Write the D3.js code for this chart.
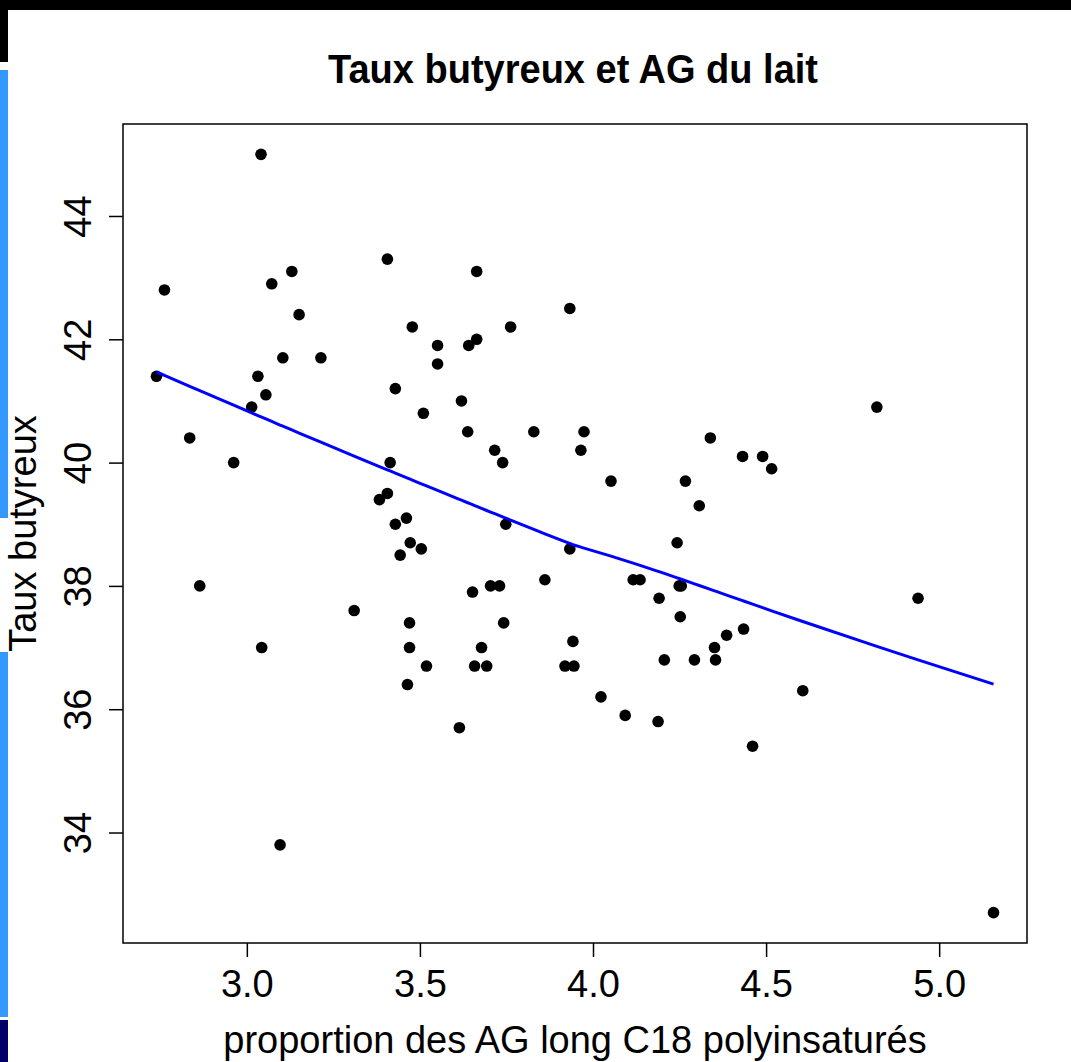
<!DOCTYPE html>
<html>
<head>
<meta charset="utf-8">
<script src="https://cdn.jsdelivr.net/npm/d3@7"></script>
<style>
  html, body { margin: 0; padding: 0; background: #fff; }
  svg { display: block; }
  text { font-family: "Liberation Sans", Arial, Helvetica, sans-serif; fill: #000; }
</style>
</head>
<body>
<svg id="chart" width="1071" height="1062"></svg>
<script>
// ---- data ----
const title = "Taux butyreux et AG du lait";
const xLabel = "proportion des AG long C18 polyinsaturés";
const yLabel = "Taux butyreux";

const agC18 = [
  2.739, 2.762, 2.835, 2.864, 2.962, 3.014, 3.032, 3.041, 3.055, 3.043,
  3.072, 3.104, 3.130, 3.151, 3.096, 3.214, 3.310, 3.383, 3.406, 3.406,
  3.414, 3.429, 3.429, 3.443, 3.461, 3.472, 3.470, 3.470, 3.464, 3.478,
  3.504, 3.510, 3.519, 3.551, 3.551, 3.614, 3.620, 3.638, 3.641, 3.664,
  3.664, 3.652, 3.658, 3.678, 3.693, 3.704, 3.716, 3.730, 3.739, 3.742,
  3.748, 3.762, 3.829, 3.861, 3.919, 3.933, 3.933, 3.942, 3.945, 3.965,
  3.974, 4.023, 4.052, 4.093, 4.116, 4.136, 4.188, 4.191, 4.206, 4.243,
  4.249, 4.255, 4.252, 4.267, 4.293, 4.307, 4.339, 4.351, 4.354, 4.386,
  4.432, 4.435, 4.461, 4.490, 4.516, 4.606, 4.820, 4.939, 5.157
];
const tauxButyreux = [
  41.4, 42.8, 40.4, 38.0, 40.0, 40.9, 41.4, 45.0, 41.1, 37.0,
  42.9, 41.7, 43.1, 42.4, 33.8, 41.7, 37.6, 39.4, 39.5, 43.3,
  40.0, 41.2, 39.0, 38.5, 39.1, 38.7, 37.4, 37.0, 36.4, 42.2,
  38.6, 40.8, 36.7, 41.9, 41.6, 35.7, 41.0, 40.5, 41.9, 42.0,
  43.1, 37.9, 36.7, 37.0, 36.7, 38.0, 40.2, 38.0, 40.0, 37.4,
  39.0, 42.2, 40.5, 38.1, 36.7, 42.5, 38.6, 37.1, 36.7, 40.2,
  40.5, 36.2, 39.7, 35.9, 38.1, 38.1, 35.8, 37.8, 36.8, 38.7,
  38.0, 38.0, 37.5, 39.7, 36.8, 39.3, 40.4, 37.0, 36.8, 37.2,
  40.1, 37.3, 35.4, 40.1, 39.9, 36.3, 40.9, 37.8, 32.7
];
const xTicks = [3.0, 3.5, 4.0, 4.5, 5.0];
const yTicks = [34, 36, 38, 40, 42, 44];
const smoothSpan = 1;

// ---- R-style lowess (clowess port) ----
function lowess(xIn, yIn, f = 2 / 3, iter = 3) {
  const idx = d3.range(xIn.length).sort((a, b) => xIn[a] - xIn[b] || a - b);
  const x = idx.map(i => xIn[i]), y = idx.map(i => yIn[i]);
  const n = x.length;
  const ns = Math.max(2, Math.min(n, Math.floor(f * n + 1e-7)));
  const delta = 0.01 * (x[n - 1] - x[0]);
  const ys = new Array(n).fill(0), res = new Array(n).fill(0), rw = new Array(n).fill(1);
  const w = new Array(n).fill(0);
  const range = x[n - 1] - x[0];
  function lowest(xs, nleft, nright, userw) {
    const h = Math.max(xs - x[nleft], x[nright] - xs);
    const h9 = 0.999 * h, h1 = 0.001 * h;
    let a = 0, j = nleft;
    while (j < n) {
      w[j] = 0;
      const r = Math.abs(x[j] - xs);
      if (r <= h9) {
        if (r <= h1) w[j] = 1; else { const q = r / h; w[j] = Math.pow(1 - q * q * q, 3); }
        if (userw) w[j] *= rw[j];
        a += w[j];
      } else if (x[j] > xs) break;
      j++;
    }
    const nrt = j - 1;
    if (a <= 0) return null;
    for (j = nleft; j <= nrt; j++) w[j] /= a;
    if (h > 0) {
      a = 0;
      for (j = nleft; j <= nrt; j++) a += w[j] * x[j];
      let b = xs - a, c = 0;
      for (j = nleft; j <= nrt; j++) c += w[j] * (x[j] - a) * (x[j] - a);
      if (Math.sqrt(c) > 0.001 * range) {
        b /= c;
        for (j = nleft; j <= nrt; j++) w[j] *= (b * (x[j] - a) + 1);
      }
    }
    let s = 0;
    for (j = nleft; j <= nrt; j++) s += w[j] * y[j];
    return s;
  }
  for (let it = 1; it <= iter + 1; it++) {
    let nleft = 0, nright = ns - 1, last = -1, i = 0;
    for (;;) {
      if (nright < n - 1) {
        const d1 = x[i] - x[nleft], d2 = x[nright + 1] - x[i];
        if (d1 > d2) { nleft++; nright++; continue; }
      }
      const v = lowest(x[i], nleft, nright, it > 1);
      ys[i] = v === null ? y[i] : v;
      if (last < i - 1) {
        const denom = x[i] - x[last];
        for (let j = last + 1; j < i; j++) {
          const alpha = (x[j] - x[last]) / denom;
          ys[j] = alpha * ys[i] + (1 - alpha) * ys[last];
        }
      }
      last = i;
      const cut = x[last] + delta;
      for (i = last + 1; i < n; i++) {
        if (x[i] > cut) break;
        if (x[i] === x[last]) { ys[i] = ys[last]; last = i; }
      }
      i = Math.max(last + 1, i - 1);
      if (last >= n - 1) break;
    }
    for (let k = 0; k < n; k++) res[k] = y[k] - ys[k];
    const sc = d3.sum(res, r => Math.abs(r)) / n;
    if (it > iter) break;
    const ar = res.map(Math.abs).sort((a, b) => a - b);
    const m1 = Math.floor(n / 2);
    let cmad;
    if (n % 2 === 0) { const m2 = n - m1 - 1; cmad = 3 * (ar[m1] + ar[m2]); }
    else cmad = 6 * ar[m1];
    if (cmad < 1e-7 * sc) break;
    const c9 = 0.999 * cmad, c1 = 0.001 * cmad;
    for (let k = 0; k < n; k++) {
      const r = Math.abs(res[k]);
      if (r <= c1) rw[k] = 1;
      else if (r <= c9) { const q = r / cmad; rw[k] = (1 - q * q) * (1 - q * q); }
      else rw[k] = 0;
    }
  }
  return x.map((xv, k) => [xv, ys[k]]);
}

// ---- layout ----
const svg = d3.select("#chart");
const plot = { left: 123, right: 1027, top: 124, bottom: 943 };

// slide fragments around the plot image
const deco = svg.append("g");
deco.append("rect").attr("x", 0).attr("y", 0).attr("width", 1071).attr("height", 10).attr("fill", "#000");
deco.append("rect").attr("x", 0).attr("y", 0).attr("width", 8).attr("height", 62).attr("fill", "#000");
deco.append("rect").attr("x", 0).attr("y", 70).attr("width", 8).attr("height", 448).attr("fill", "#3399ff");
deco.append("rect").attr("x", 0).attr("y", 652).attr("width", 8).attr("height", 365).attr("fill", "#3399ff");
deco.append("rect").attr("x", 0).attr("y", 1020).attr("width", 8).attr("height", 42).attr("fill", "#000066");

function padded(ext) {
  const d = (ext[1] - ext[0]) * 0.04;
  return [ext[0] - d, ext[1] + d];
}
const x = d3.scaleLinear().domain(padded(d3.extent(agC18))).range([plot.left, plot.right]);
const y = d3.scaleLinear().domain(padded(d3.extent(tauxButyreux))).range([plot.bottom, plot.top]);

// frame
svg.append("rect")
  .attr("x", plot.left).attr("y", plot.top)
  .attr("width", plot.right - plot.left).attr("height", plot.bottom - plot.top)
  .attr("fill", "none").attr("stroke", "#000").attr("stroke-width", 1.5);

// x axis
const xAxis = svg.append("g").attr("transform", `translate(0,${plot.bottom})`)
  .call(d3.axisBottom(x).tickValues(xTicks).tickFormat(d3.format(".1f")).tickSize(14).tickPadding(13));
xAxis.select(".domain").remove();
xAxis.selectAll("line").attr("stroke", "#000").attr("stroke-width", 1.5);
xAxis.selectAll("text").attr("font-size", 38).attr("font-family", "Liberation Sans, Arial, sans-serif").attr("fill", "#000");

// y axis (labels parallel to axis, as in R)
const yAxis = svg.append("g").attr("transform", `translate(${plot.left},0)`)
  .call(d3.axisLeft(y).tickValues(yTicks).tickFormat(d3.format("d")).tickSize(14));
yAxis.select(".domain").remove();
yAxis.selectAll("line").attr("stroke", "#000").attr("stroke-width", 1.5);
yAxis.selectAll("text")
  .attr("font-size", 38).attr("font-family", "Liberation Sans, Arial, sans-serif").attr("fill", "#000")
  .attr("x", null).attr("dy", null)
  .attr("text-anchor", "middle")
  .attr("transform", "translate(-32,0) rotate(-90)");

// points
svg.append("g").selectAll("circle")
  .data(agC18.map((v, i) => [v, tauxButyreux[i]]))
  .join("circle")
  .attr("cx", d => x(d[0])).attr("cy", d => y(d[1]))
  .attr("r", 5.8).attr("fill", "#000");

// lowess line
const smooth = lowess(agC18, tauxButyreux, smoothSpan);
svg.append("path")
  .datum(smooth)
  .attr("d", d3.line().x(d => x(d[0])).y(d => y(d[1])))
  .attr("fill", "none").attr("stroke", "#0000ff").attr("stroke-width", 3);

// titles
svg.append("text").attr("x", 573).attr("y", 83).attr("text-anchor", "middle")
  .attr("font-size", 41).attr("font-weight", "bold")
  .attr("textLength", 490).attr("lengthAdjust", "spacingAndGlyphs")
  .text(title);
svg.append("text").attr("x", 575).attr("y", 1053).attr("text-anchor", "middle")
  .attr("font-size", 38).text(xLabel);
svg.append("text").attr("transform", `translate(36,${(plot.top + plot.bottom) / 2}) rotate(-90)`)
  .attr("text-anchor", "middle").attr("font-size", 38).text(yLabel);
</script>
</body>
</html>
